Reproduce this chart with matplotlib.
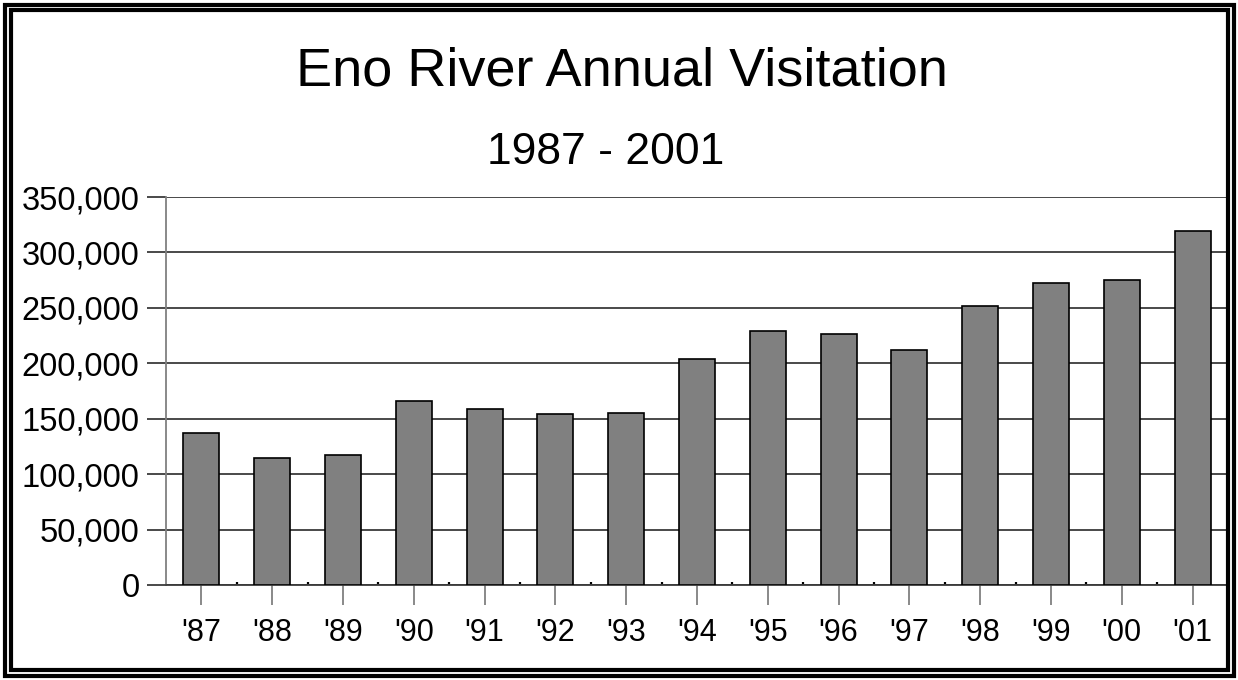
import numpy as np
import matplotlib.pyplot as plt
from matplotlib.patches import Rectangle
from matplotlib.ticker import FuncFormatter

plt.rcParams['font.family'] = ['Liberation Sans', 'DejaVu Sans']

years = ["'87", "'88", "'89", "'90", "'91", "'92", "'93", "'94",
         "'95", "'96", "'97", "'98", "'99", "'00", "'01"]
visits = [137000, 115000, 117000, 166000, 159000, 154000, 155000, 204000,
          229000, 226000, 212000, 252000, 272000, 275000, 319000]
yticks = [0, 50000, 100000, 150000, 200000, 250000, 300000, 350000]

fig = plt.figure(figsize=(12.38, 6.8), dpi=100)
ax = fig.add_axes([166/1238, 95/680, 1062/1238, 388/680])

x = np.arange(len(years))
ax.bar(x, visits, width=0.51, color='#808080', edgecolor='black', linewidth=1.2, zorder=3)

ax.set_xlim(-0.5, len(years) - 0.5)
ax.set_ylim(0, 350000)
ax.set_yticks(yticks)
ax.yaxis.set_major_formatter(FuncFormatter(lambda v, p: f'{int(v):,}'))
ax.set_xticks(x)
ax.set_xticklabels(years)
ax.set_xticks(x[:-1] + 0.5, minor=True)

ax.grid(axis='y', color='#3a3a3a', linewidth=1.3, zorder=0)
for s in ['top', 'right']:
    ax.spines[s].set_visible(False)
ax.spines['left'].set_color('#808080')
ax.spines['left'].set_linewidth(1.3)
ax.spines['bottom'].set_color('#3a3a3a')
ax.spines['bottom'].set_linewidth(1.3)

ax.tick_params(axis='y', length=14, width=1.3, color='#3a3a3a', labelsize=23.5, pad=5)
ax.tick_params(axis='x', which='major', length=14.5, width=1.3, color='#808080', labelsize=22, pad=9)
ax.tick_params(axis='x', which='minor', length=2.5, width=1.6, color='black', direction='in')

fig.text(622/1238, 1 - 71/680, 'Eno River Annual Visitation', ha='center', va='center', fontsize=39)
fig.text(606/1238, 1 - 153/680, '1987 - 2001', ha='center', va='center', fontsize=32)

# double frame around the whole picture
fig.patches.append(Rectangle((4.5/1238, 4.5/680), 1 - 9/1238, 1 - 9/680, transform=fig.transFigure,
                             fill=False, edgecolor='black', linewidth=3.0))
fig.patches.append(Rectangle((10.5/1238, 10/680), 1 - 21/1238, 1 - 20/680, transform=fig.transFigure,
                             fill=False, edgecolor='black', linewidth=3.0))

fig.savefig('out.png', dpi=100)
